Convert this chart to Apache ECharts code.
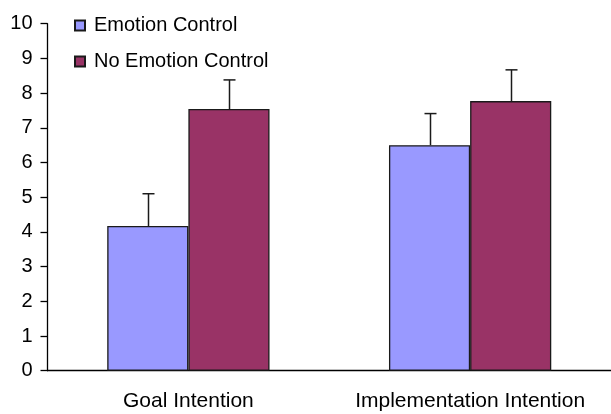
<!DOCTYPE html>
<html>
<head>
<meta charset="utf-8">
<script src="https://cdn.jsdelivr.net/npm/echarts@6/dist/echarts.min.js"></script>
<style>html,body{margin:0;padding:0;background:#fff;}#c{width:611px;height:414px;}</style>
</head>
<body>
<div id="c"></div>
<script>
var categories = ['Goal Intention', 'Implementation Intention'];
var seriesNames = ['Emotion Control', 'No Emotion Control'];
var emotionControl = [4.17, 6.50];
var noEmotionControl = [7.54, 7.77];
var emotionControlUpper = [5.10, 7.41];
var noEmotionControlUpper = [8.38, 8.67];
var yTicks = [0, 1, 2, 3, 4, 5, 6, 7, 8, 9, 10];

var BAR_FRAC = 0.288;
var FONT = '"Liberation Sans", Arial, sans-serif';

function errorSeries(name, means, uppers, sideSign) {
  return {
    type: 'custom',
    name: name + ' err',
    z: 5,
    silent: true,
    data: means.map(function (m, i) { return [i, m, uppers[i]]; }),
    renderItem: function (params, api) {
      var band = api.size([1, 0])[0];
      var w = band * BAR_FRAC;
      var c = api.coord([api.value(0), api.value(1)]);
      var u = api.coord([api.value(0), api.value(2)]);
      var x = Math.round(c[0] + sideSign * w / 2) + 0.5;
      var style = { stroke: '#1a1a1a', lineWidth: 1.5 };
      return {
        type: 'group',
        children: [
          { type: 'line', shape: { x1: x, y1: c[1], x2: x, y2: u[1] }, style: style },
          { type: 'line', shape: { x1: x - 6, y1: u[1], x2: x + 6, y2: u[1] }, style: style }
        ]
      };
    }
  };
}

var chart = echarts.init(document.getElementById('c'));
chart.setOption({
  animation: false,
  backgroundColor: '#fff',
  grid: { left: 47.5, top: 23.7, width: 566.4, bottom: 43.3, containLabel: false },
  legend: {
    orient: 'vertical',
    left: 69,
    top: 10,
    itemWidth: 10,
    itemHeight: 10,
    itemGap: 15,
    icon: 'rect',
    data: seriesNames,
    textStyle: { fontFamily: FONT, fontSize: 20, color: '#000', lineHeight: 21, padding: [0, 0, 0, 4] }
  },
  xAxis: {
    type: 'category',
    data: categories,
    axisLine: { lineStyle: { color: '#000', width: 1.3 } },
    axisTick: { show: false },
    axisLabel: { fontFamily: FONT, fontSize: 21, color: '#000', margin: 20, interval: 0 }
  },
  yAxis: {
    type: 'value',
    min: 0,
    max: 10,
    interval: 1,
    splitLine: { show: false },
    axisLine: { show: true, lineStyle: { color: '#000', width: 1.3 } },
    axisTick: { show: true, length: 7, lineStyle: { color: '#000', width: 1.3 } },
    axisLabel: {
      fontFamily: FONT, fontSize: 20, color: '#000', margin: 15,
      formatter: function (v) { return yTicks.indexOf(v) >= 0 ? String(v) : ''; }
    }
  },
  series: [
    {
      name: seriesNames[0], type: 'bar', data: emotionControl,
      barWidth: (BAR_FRAC * 100) + '%', barGap: '0%',
      itemStyle: { color: '#9999ff', borderColor: '#1a1a1a', borderWidth: 1.3 }
    },
    {
      name: seriesNames[1], type: 'bar', data: noEmotionControl,
      barWidth: (BAR_FRAC * 100) + '%', barGap: '0%',
      itemStyle: { color: '#993366', borderColor: '#1a1a1a', borderWidth: 1.3 }
    },
    errorSeries(seriesNames[0], emotionControl, emotionControlUpper, -1),
    errorSeries(seriesNames[1], noEmotionControl, noEmotionControlUpper, 1)
  ]
});
</script>
</body>
</html>
